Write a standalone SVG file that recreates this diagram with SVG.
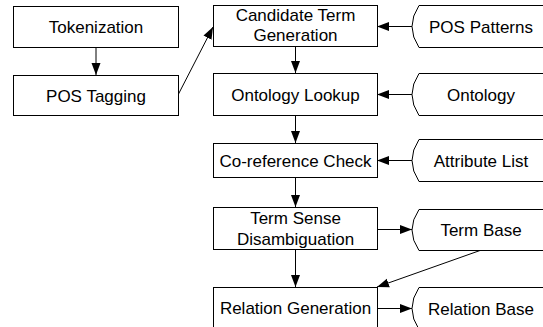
<svg xmlns="http://www.w3.org/2000/svg" width="543" height="327" viewBox="0 0 543 327">
<style>
.box{fill:#fff;stroke:#000;stroke-width:1}
.store{fill:#fff;stroke:#000;stroke-width:1}
.t{font-family:"Liberation Sans",Arial,sans-serif;font-size:17px;fill:#000;text-anchor:middle}
.c{stroke:#000;stroke-width:1;fill:none;marker-end:url(#ah)}
</style>
<defs>
<marker id="ah" markerWidth="13" markerHeight="10" refX="12" refY="5" orient="auto" markerUnits="userSpaceOnUse">
<path d="M0,0.5 L12,5 L0,9.5 Z" fill="#000"/>
</marker>
</defs>
<rect width="543" height="327" fill="#fff"/>
<g id="connectors">
<line class="c" x1="96" y1="47" x2="96" y2="75"/>
<line class="c" x1="178" y1="95" x2="213" y2="27"/>
<line class="c" x1="412" y1="26.5" x2="377" y2="26.5"/>
<line class="c" x1="295.5" y1="46" x2="295.5" y2="73"/>
<line class="c" x1="412" y1="94.5" x2="377" y2="94.5"/>
<line class="c" x1="295.5" y1="115" x2="295.5" y2="143"/>
<line class="c" x1="412" y1="160.5" x2="377" y2="160.5"/>
<line class="c" x1="295.5" y1="177" x2="295.5" y2="207"/>
<line class="c" x1="377" y1="229.5" x2="412" y2="229.5"/>
<line class="c" x1="295.5" y1="249" x2="295.5" y2="287"/>
<line class="c" x1="480" y1="250.5" x2="377" y2="287"/>
<line class="c" x1="377" y1="308.5" x2="412" y2="308.5"/>
</g>
<g id="tokenization">
<rect class="box" x="13.5" y="6.5" width="165" height="41"/>
<text class="t" x="96" y="33">Tokenization</text>
</g>
<g id="pos-tagging">
<rect class="box" x="13.5" y="75.5" width="165" height="40"/>
<text class="t" x="96" y="101.5">POS Tagging</text>
</g>
<g id="candidate-term">
<rect class="box" x="213.5" y="5.5" width="164" height="41"/>
<text class="t" x="295.5" y="21">Candidate Term</text>
<text class="t" x="295.5" y="41">Generation</text>
</g>
<g id="ontology-lookup">
<rect class="box" x="213.5" y="73.5" width="164" height="42"/>
<text class="t" x="295.5" y="100.5">Ontology Lookup</text>
</g>
<g id="coreference">
<rect class="box" x="213.5" y="143.5" width="164" height="34"/>
<text class="t" x="295.5" y="166.5">Co-reference Check</text>
</g>
<g id="term-sense">
<rect class="box" x="213.5" y="207.5" width="164" height="42"/>
<text class="t" x="295.5" y="224">Term Sense</text>
<text class="t" x="295.5" y="244.5">Disambiguation</text>
</g>
<g id="relation-generation">
<rect class="box" x="213.5" y="287.5" width="164" height="42"/>
<text class="t" x="295.5" y="314">Relation Generation</text>
</g>
<g id="pos-patterns">
<path class="store" d="M560,5.5 H419 Q405,26.5 419,47.5 H560"/>
<text class="t" x="481" y="32.5">POS Patterns</text>
</g>
<g id="ontology">
<path class="store" d="M560,73.5 H419 Q405,94.5 419,115.5 H560"/>
<text class="t" x="481" y="100.5">Ontology</text>
</g>
<g id="attribute-list">
<path class="store" d="M560,139.5 H419 Q405,160.5 419,181.5 H560"/>
<text class="t" x="481" y="166.5">Attribute List</text>
</g>
<g id="term-base">
<path class="store" d="M560,209.5 H419 Q405,230 419,250.5 H560"/>
<text class="t" x="481" y="236">Term Base</text>
</g>
<g id="relation-base">
<path class="store" d="M560,287.5 H419 Q405,308.5 419,329.5 H560"/>
<text class="t" x="481" y="314.5">Relation Base</text>
</g>
</svg>
